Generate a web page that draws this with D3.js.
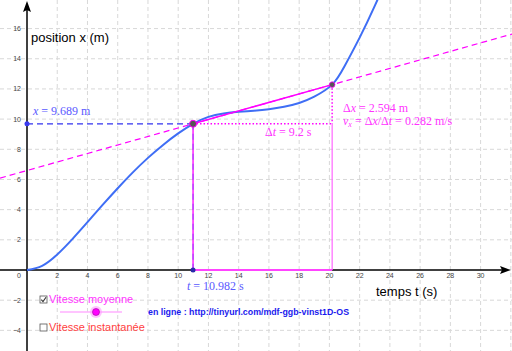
<!DOCTYPE html>
<html lang="fr">
<head>
<meta charset="UTF-8">
<title>Vitesse moyenne</title>
<script src="https://cdn.jsdelivr.net/npm/d3@7"></script>
<style>
  body { margin: 0; background: #fff; }
  svg { display: block; }
  .tick-label { font-family: 'Liberation Sans', sans-serif; font-size: 7px; fill: #444; }
  .axis-title { font-family: 'Liberation Sans', sans-serif; font-size: 13px; fill: #000; }
  .tex { font-family: 'Liberation Serif', serif; font-size: 12px; }
  .ui { font-family: 'Liberation Sans', sans-serif; font-size: 11px; }
</style>
</head>
<body>
<svg id="chart" width="512" height="351"></svg>
<script>
// curve x(t)
const tValues = [0, 1, 2, 3, 4, 5, 6, 7, 8, 9, 10, 10.982, 12, 13, 14, 15, 16, 17, 18, 19, 20.182, 21, 22, 23, 24];
const xValues = [0, 0.28, 1.03, 2.05, 3.17, 4.31, 5.42, 6.47, 7.43, 8.29, 9.05, 9.689, 10.15, 10.37, 10.48, 10.56, 10.66, 10.82, 11.07, 11.49, 12.283, 13.5, 15.4, 17.5, 19.8];

// state shown in the picture
const t1 = 10.982, x1 = 9.689;
const dt = 9.2, dx = 2.594, vx = 0.282;
const t2 = t1 + dt, x2 = x1 + dx;

const xTicks = [2, 4, 6, 8, 10, 12, 14, 16, 18, 20, 22, 24, 26, 28, 30];
const yTicks = [-4, -2, 2, 4, 6, 8, 10, 12, 14, 16];

const W = 512, H = 351;
const ox = 27, oy = 270, ppu = 15.12;

const x = d3.scaleLinear().domain([0, 1]).range([ox, ox + ppu]);
const y = d3.scaleLinear().domain([0, 1]).range([oy, oy - ppu * 0.998]);

const svg = d3.select("#chart");
const magenta = "#ff00ff", blue = "#3f6ef5";

// grid
const grid = svg.append("g").attr("stroke", "#d8d8d8").attr("stroke-dasharray", "4,3").attr("stroke-width", 1);
d3.range(2, 34, 2).forEach(v => grid.append("line").attr("x1", x(v)).attr("x2", x(v)).attr("y1", 0).attr("y2", H));
d3.range(-6, 18, 2).filter(v => v !== 0).forEach(v => grid.append("line").attr("x1", 0).attr("x2", W).attr("y1", y(v)).attr("y2", y(v)));

// axes
svg.append("line").attr("x1", 0).attr("x2", W - 6).attr("y1", oy).attr("y2", oy).attr("stroke", "#000").attr("stroke-width", 1.5);
svg.append("path").attr("d", `M${W - 1},${oy} L${W - 12},${oy - 4} L${W - 10},${oy} L${W - 12},${oy + 4}Z`).attr("fill", "#000");
svg.append("line").attr("x1", ox).attr("x2", ox).attr("y1", H).attr("y2", 6).attr("stroke", "#000").attr("stroke-width", 1.5);
svg.append("path").attr("d", `M${ox},1 L${ox - 4},12 L${ox},10 L${ox + 4},12Z`).attr("fill", "#000");

svg.append("g").selectAll("text").data(xTicks).join("text")
  .attr("class", "tick-label").attr("x", d => x(d)).attr("y", oy + 8)
  .attr("text-anchor", "middle").text(d => d);
svg.append("g").selectAll("text").data(yTicks).join("text")
  .attr("class", "tick-label").attr("x", ox - 6).attr("y", d => y(d) + 2.5)
  .attr("text-anchor", "end").text(d => d < 0 ? "\u2212" + (-d) : d);
svg.append("text").attr("class", "tick-label").attr("x", ox - 6).attr("y", oy + 8).attr("text-anchor", "end").text("0");

svg.append("text").attr("class", "axis-title").attr("x", 31).attr("y", 42).text("position x (m)");
svg.append("text").attr("class", "axis-title").attr("x", 376).attr("y", 296).text("temps t (s)");

// construction lines
svg.append("line").attr("x1", ox).attr("x2", x(t1)).attr("y1", y(x1)).attr("y2", y(x1))
  .attr("stroke", "#3333ee").attr("stroke-width", 1.2).attr("stroke-dasharray", "6,4");
svg.append("line").attr("x1", x(t1)).attr("x2", x(t1)).attr("y1", y(x1)).attr("y2", oy)
  .attr("stroke", magenta).attr("stroke-width", 1.3);
svg.append("line").attr("x1", x(t1)).attr("x2", x(t1)).attr("y1", y(x1)).attr("y2", oy)
  .attr("stroke", "#6633ff").attr("stroke-width", 1.2).attr("stroke-dasharray", "6,4").attr("opacity", 0.55);
svg.append("line").attr("x1", x(t1)).attr("x2", x(t2)).attr("y1", y(x1)).attr("y2", y(x1))
  .attr("stroke", magenta).attr("stroke-width", 1.5).attr("stroke-dasharray", "1.5,2");
svg.append("line").attr("x1", x(t2)).attr("x2", x(t2)).attr("y1", y(x2)).attr("y2", y(x1))
  .attr("stroke", magenta).attr("stroke-width", 1.5).attr("stroke-dasharray", "1.5,2");
svg.append("line").attr("x1", x(t2)).attr("x2", x(t2)).attr("y1", y(x1)).attr("y2", oy)
  .attr("stroke", "#ff66ff").attr("stroke-width", 1.2);
svg.append("line").attr("x1", x(t1)).attr("x2", x(t2)).attr("y1", oy).attr("y2", oy)
  .attr("stroke", "#ff44ff").attr("stroke-width", 2.2);

// secant extended (dashed) and secant segment
const slope = dx / dt;
const tL = x.invert(0), tR = x.invert(W);
svg.append("line").attr("x1", 0).attr("x2", W)
  .attr("y1", y(x1 + slope * (tL - t1))).attr("y2", y(x1 + slope * (tR - t1)))
  .attr("stroke", magenta).attr("stroke-width", 1.2).attr("stroke-dasharray", "6,4");

// curve
svg.append("defs").append("clipPath").attr("id", "plot").append("rect").attr("width", W).attr("height", H);
svg.append("path").datum(d3.zip(tValues, xValues))
  .attr("clip-path", "url(#plot)")
  .attr("fill", "none").attr("stroke", blue).attr("stroke-width", 2)
  .attr("d", d3.line().x(d => x(d[0])).y(d => y(d[1])).curve(d3.curveNatural));

svg.append("line").attr("x1", x(t1)).attr("x2", x(t2)).attr("y1", y(x1)).attr("y2", y(x2))
  .attr("stroke", magenta).attr("stroke-width", 1.5);

// points
svg.append("circle").attr("cx", ox).attr("cy", y(x1)).attr("r", 2.5).attr("fill", "#3a3af0");
svg.append("circle").attr("cx", x(t1)).attr("cy", oy).attr("r", 2.5).attr("fill", "#2a2aa8");
svg.append("circle").attr("cx", x(t1)).attr("cy", y(x1)).attr("r", 3.5).attr("fill", "#555").attr("stroke", magenta).attr("stroke-width", 1);
svg.append("circle").attr("cx", x(t2)).attr("cy", y(x2)).attr("r", 2.8).attr("fill", "#555").attr("stroke", magenta).attr("stroke-width", 0.8);

// math labels
function tex(px, py, color, parts) {
  const t = svg.append("text").attr("class", "tex").attr("x", px).attr("y", py).attr("fill", color);
  parts.forEach(p => {
    const s = t.append("tspan").text(p[0]);
    if (p[1] === "i") s.attr("font-style", "italic");
    if (p[1] === "sub") s.attr("font-style", "italic").attr("font-size", 8).attr("dy", 2);
    if (p[1] === "up") s.attr("dy", -2);
  });
}
const lblBlue = "#5a5aff", lblMag = "#ff33ff";
tex(33, 115, lblBlue, [["x", "i"], [" = " + x1.toFixed(3) + " m"]]);
tex(187, 290, lblBlue, [["t", "i"], [" = " + t1.toFixed(3) + " s"]]);
tex(265, 136, lblMag, [["\u0394"], ["t", "i"], [" = " + dt.toFixed(1) + " s"]]);
tex(343, 112, lblMag, [["\u0394"], ["x", "i"], [" = " + dx.toFixed(3) + " m"]]);
tex(343, 125, lblMag, [["v", "i"], ["x", "sub"], [" = \u0394", "up"], ["x", "i"], ["/\u0394"], ["t", "i"], [" = " + vx.toFixed(3) + " m/s"]]);

// controls
function checkbox(px, py, checked, label, color) {
  svg.append("rect").attr("x", px).attr("y", py).attr("width", 7).attr("height", 7)
    .attr("fill", "#fff").attr("stroke", "#555").attr("stroke-width", 0.8);
  if (checked) svg.append("path").attr("d", `M${px + 1.3},${py + 3.6} L${px + 3},${py + 5.6} L${px + 6},${py + 1.2}`)
    .attr("fill", "none").attr("stroke", "#333").attr("stroke-width", 1.1);
  svg.append("text").attr("class", "ui").attr("x", px + 9).attr("y", py + 7).attr("fill", color).text(label);
}
checkbox(40, 296, true, "Vitesse moyenne", "#ff33ff");
checkbox(40, 324, false, "Vitesse instantan\u00e9e", "#ff4040");

svg.append("line").attr("x1", 60).attr("x2", 122).attr("y1", 312).attr("y2", 312).attr("stroke", "#ffb0ff").attr("stroke-width", 1.5);
svg.append("circle").attr("cx", 96).attr("cy", 312).attr("r", 6).attr("fill", "#ff99ff").attr("opacity", 0.6);
svg.append("circle").attr("cx", 96).attr("cy", 312).attr("r", 3.5).attr("fill", "#ff00ff").attr("stroke", "#a000a0").attr("stroke-width", 0.6);

svg.append("text").attr("x", 148).attr("y", 315)
  .attr("font-family", "'Liberation Sans', sans-serif").attr("font-weight", "bold").attr("font-size", 8.5)
  .attr("fill", "#1a1aee").attr("textLength", 201).attr("lengthAdjust", "spacingAndGlyphs")
  .text("en ligne : http://tinyurl.com/mdf-ggb-vinst1D-OS");
</script>
</body>
</html>
